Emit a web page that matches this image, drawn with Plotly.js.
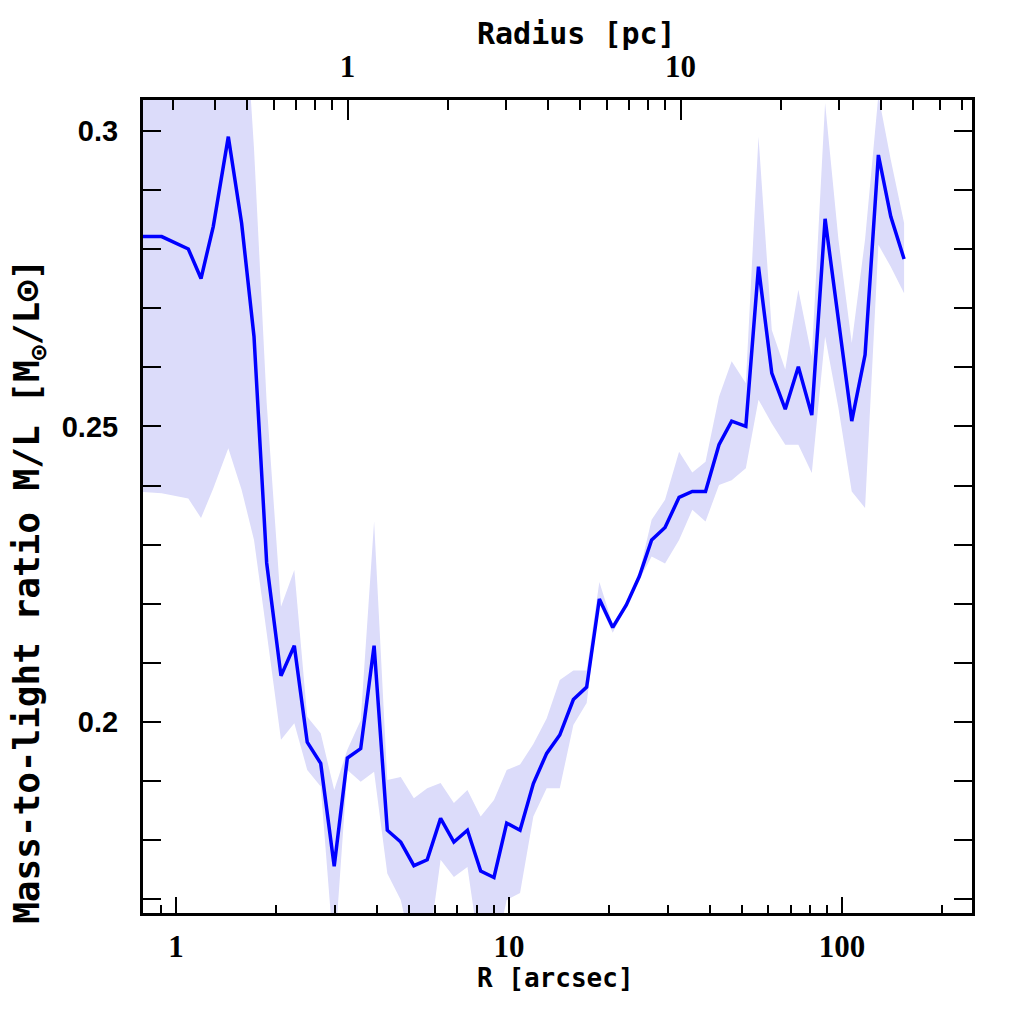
<!DOCTYPE html>
<html>
<head>
<meta charset="utf-8">
<script src="https://cdn.plot.ly/plotly-3.0.1.min.js"></script>
<style>html,body{margin:0;padding:0;background:#fff;}#chart{width:1024px;height:1024px;}</style>
</head>
<body>
<div id="chart"></div>
<script>
// Radius in arcsec
const R_arcsec = [0.75, 0.906, 1.089, 1.189, 1.294, 1.436, 1.574, 1.715, 1.872, 2.067, 2.266, 2.478, 2.720, 2.986, 3.27, 3.586, 3.934, 4.31, 4.73, 5.18, 5.68, 6.23, 6.83, 7.50, 8.22, 9.01, 9.84, 10.79, 11.83, 12.97, 14.2, 15.6, 17.1, 18.67, 20.48, 22.5, 24.6, 26.8, 29.4, 32.4, 35.5, 38.9, 42.7, 46.6, 51.4, 56.1, 61.5, 67.5, 73.9, 81.1, 88.9, 97.5, 106.9, 117.2, 128.5, 140, 153.5];
// Mass-to-light ratio
const ML = [0.2821, 0.2821, 0.2800, 0.2750, 0.2838, 0.2990, 0.2844, 0.2652, 0.2269, 0.2078, 0.2129, 0.1966, 0.1930, 0.1756, 0.1939, 0.1955, 0.2129, 0.1817, 0.1797, 0.1757, 0.1767, 0.1837, 0.1797, 0.1817, 0.1748, 0.1737, 0.1829, 0.1817, 0.1896, 0.1947, 0.1978, 0.2038, 0.2059, 0.2208, 0.2160, 0.2198, 0.2246, 0.2308, 0.2329, 0.2380, 0.2390, 0.2390, 0.2469, 0.2509, 0.2500, 0.2770, 0.2590, 0.2529, 0.2601, 0.2519, 0.2851, 0.2680, 0.2509, 0.2621, 0.2959, 0.2855, 0.2783];
// Lower / upper bounds of uncertainty band
const ML_low = [0.2390, 0.2387, 0.2378, 0.2345, 0.2395, 0.2463, 0.2393, 0.2308, 0.2151, 0.1970, 0.1998, 0.1919, 0.1891, 0.1600, 0.1919, 0.1899, 0.1916, 0.1744, 0.1699, 0.1600, 0.1600, 0.1767, 0.1738, 0.1755, 0.1600, 0.1600, 0.1699, 0.1711, 0.1840, 0.1888, 0.1888, 0.1995, 0.2032, 0.2200, 0.2151, 0.2195, 0.2240, 0.2280, 0.2268, 0.2308, 0.2359, 0.2339, 0.2401, 0.2409, 0.2429, 0.2545, 0.2505, 0.2469, 0.2469, 0.2421, 0.2652, 0.2531, 0.2390, 0.2362, 0.2807, 0.2770, 0.2725];
const ML_high = [0.34, 0.34, 0.34, 0.34, 0.34, 0.34, 0.33, 0.297, 0.254, 0.2195, 0.2257, 0.2009, 0.1981, 0.1885, 0.1953, 0.2003, 0.2339, 0.1902, 0.1907, 0.1871, 0.1888, 0.1897, 0.1863, 0.1885, 0.1840, 0.1868, 0.1919, 0.1928, 0.1963, 0.2006, 0.2071, 0.2087, 0.2087, 0.2237, 0.2165, 0.2202, 0.2252, 0.2342, 0.2376, 0.2457, 0.2422, 0.2440, 0.2550, 0.2610, 0.2573, 0.2990, 0.2663, 0.2596, 0.2731, 0.2618, 0.3047, 0.2816, 0.2641, 0.2816, 0.3060, 0.2951, 0.2844];

// Tick definitions
const xMajor = [1, 10, 100];
const xMajorText = ['1', '10', '100'];
const xMinor = [0.8, 0.9, 2, 3, 4, 5, 6, 7, 8, 9, 20, 30, 40, 50, 60, 70, 80, 90, 200];
const pcMajor = [1, 10];
const pcMajorText = ['1', '10'];
const pcMinor = [0.3, 0.4, 0.5, 0.6, 0.7, 0.8, 0.9, 2, 3, 4, 5, 6, 7, 8, 9, 20, 30, 40, 50, 60, 70];
const yMajor = [0.2, 0.25, 0.3];
const yMajorText = ['0.2', '0.25', '0.3'];
const yMinor = [0.17, 0.18, 0.19, 0.21, 0.22, 0.23, 0.24, 0.26, 0.27, 0.28, 0.29];

const pcPerArcsecLog = 0.515; // log10 offset between arcsec and pc scales

const traces = [
  {x: R_arcsec, y: ML_low, type: 'scatter', mode: 'lines', line: {width: 0, color: 'rgba(0,0,0,0)'}, hoverinfo: 'skip', showlegend: false},
  {x: R_arcsec, y: ML_high, type: 'scatter', mode: 'lines', line: {width: 0, color: 'rgba(0,0,0,0)'}, fill: 'tonexty', fillcolor: 'rgb(220,220,250)', hoverinfo: 'skip', showlegend: false},
  {x: R_arcsec, y: ML, type: 'scatter', mode: 'lines', line: {width: 3.5, color: '#0000ff'}, showlegend: false},
  {x: [], y: [], type: 'scatter', mode: 'lines', xaxis: 'x2', yaxis: 'y', showlegend: false}
];

const xr = [-0.099, 2.390];
const tickFontSerif = {family: 'Liberation Serif, DejaVu Serif, serif', size: 31, color: '#000', weight: 'bold'};
const titleFont = {family: 'DejaVu Sans Mono, monospace', color: '#000', weight: 'bold'};

const layout = {
  width: 1024, height: 1024,
  margin: {l: 143, r: 52, t: 100, b: 111},
  paper_bgcolor: '#fff', plot_bgcolor: '#fff',
  showlegend: false,
  xaxis: {
    type: 'log', range: xr,
    tickmode: 'array', tickvals: xMajor, ticktext: xMajorText,
    ticks: 'inside', ticklen: 16, tickwidth: 2, tickcolor: '#000',
    minor: {tickmode: 'array', tickvals: xMinor, ticks: 'inside', ticklen: 8, tickwidth: 2, tickcolor: '#000', showgrid: false},
    showline: true, linewidth: 3, linecolor: '#000', mirror: false,
    showgrid: false, zeroline: false,
    tickfont: tickFontSerif, ticklabelstandoff: 4
  },
  xaxis2: {
    type: 'log', range: [xr[0] - pcPerArcsecLog, xr[1] - pcPerArcsecLog],
    overlaying: 'x', side: 'top', anchor: 'y',
    tickmode: 'array', tickvals: pcMajor, ticktext: pcMajorText,
    ticks: 'inside', ticklen: 20, tickwidth: 2, tickcolor: '#000',
    minor: {tickmode: 'array', tickvals: pcMinor, ticks: 'inside', ticklen: 10, tickwidth: 2, tickcolor: '#000', showgrid: false},
    showline: true, linewidth: 3, linecolor: '#000',
    showgrid: false, zeroline: false,
    tickfont: tickFontSerif, ticklabelstandoff: 8
  },
  yaxis: {
    range: [0.1677, 0.3052],
    tickmode: 'array', tickvals: yMajor, ticktext: yMajorText,
    ticks: 'inside', ticklen: 18, tickwidth: 2, tickcolor: '#000',
    minor: {tickmode: 'array', tickvals: yMinor, ticks: 'inside', ticklen: 9, tickwidth: 2, tickcolor: '#000', showgrid: false},
    showline: true, linewidth: 3, linecolor: '#000', mirror: 'allticks',
    showgrid: false, zeroline: false,
    tickfont: {family: 'Liberation Sans, Arial, sans-serif', size: 29, color: '#000', weight: 'bold'},
    ticklabelstandoff: 16
  },
  annotations: [
    {text: 'R [arcsec]', xref: 'paper', yref: 'paper', x: 0.497, y: -0.080, xanchor: 'center', yanchor: 'middle', showarrow: false, font: Object.assign({size: 26}, titleFont)},
    {text: 'Radius [pc]', xref: 'paper', yref: 'paper', x: 0.5235, y: 1.0824, xanchor: 'center', yanchor: 'middle', showarrow: false, font: Object.assign({size: 30}, titleFont)},
    {text: 'Mass-to-light ratio M/L [M<sub>⊙</sub>/L⊙]', xref: 'paper', yref: 'paper', x: -0.1363, y: 0.395, xanchor: 'center', yanchor: 'middle', textangle: -90, showarrow: false, font: Object.assign({size: 36}, titleFont)}
  ]
};

Plotly.newPlot('chart', traces, layout, {staticPlot: true, displayModeBar: false});
</script>
</body>
</html>
